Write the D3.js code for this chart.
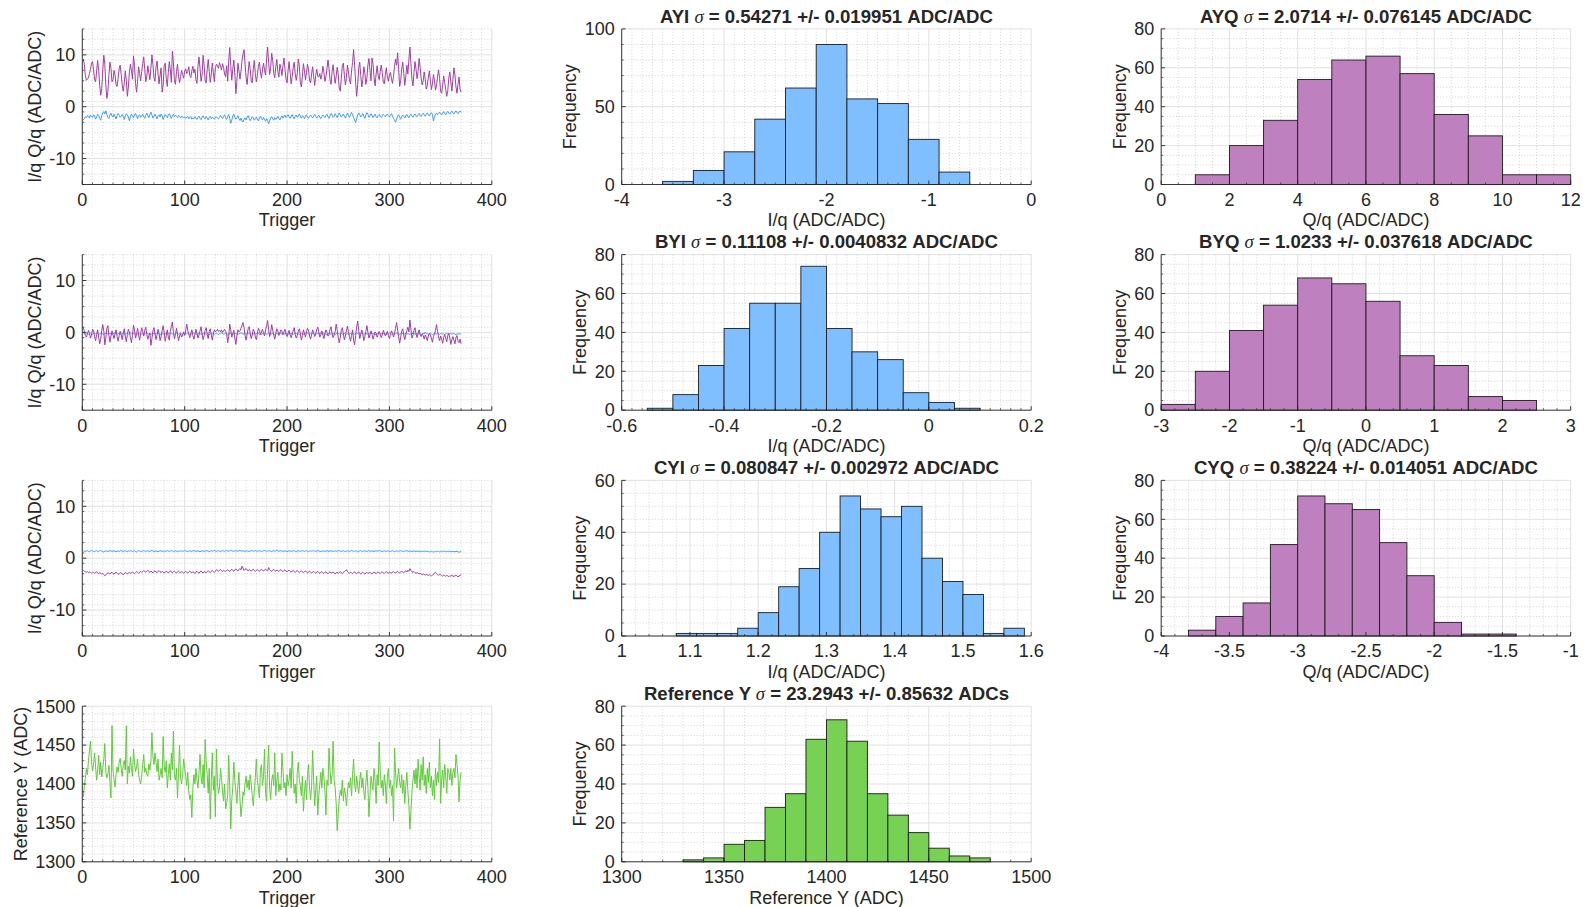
<!DOCTYPE html>
<html>
<head>
<meta charset="utf-8">
<script src="https://cdn.jsdelivr.net/npm/d3@7"></script>
<style>
  body { margin: 0; background: #fff; }
  svg text { font-family: "Liberation Sans", Arial, Helvetica, sans-serif; fill: #262626; }
</style>
</head>
<body>
<svg id="fig" width="1592" height="907"></svg>
<script>
// ---------------- Time series (per trigger) ----------------
const ayI = [
-2.55,-2.30,-1.95,-2.10,-1.70,-1.85,-2.20,-1.60,-1.90,-2.05,
-1.55,-1.80,-2.40,-1.95,-1.45,-1.70,-2.25,-2.60,-1.65,-1.20,
-0.95,-1.40,-0.80,-1.50,-2.10,-2.30,-1.60,-1.25,-1.75,-2.00,
-1.45,-1.85,-2.35,-1.70,-1.30,-1.65,-2.05,-1.80,-1.50,-1.90,
-2.45,-1.75,-1.35,-1.60,-2.00,-2.70,-1.95,-1.40,-1.75,-2.15,
-1.60,-1.30,-1.85,-2.30,-1.70,-1.55,-2.05,-1.80,-1.45,-1.95,
-2.25,-1.65,-1.25,-1.70,-2.10,-1.50,-1.05,-1.60,-2.20,-1.85,
-1.45,-1.90,-2.35,-1.75,-1.55,-2.00,-1.40,-1.70,-2.45,-1.95,
-1.50,-1.85,-2.10,-1.60,-1.35,-1.80,-2.25,-1.70,-1.45,-1.95,
-1.60,-1.85,-2.05,-1.70,-1.90,-2.15,-1.80,-2.00,-2.20,-1.95,
-2.25,-2.05,-1.85,-2.35,-2.10,-1.90,-2.40,-2.15,-2.30,-1.95,
-2.20,-2.45,-2.05,-1.80,-2.25,-2.50,-2.00,-1.75,-2.15,-2.35,
-1.90,-2.20,-2.55,-2.10,-1.85,-2.30,-2.05,-2.25,-2.40,-2.00,
-1.95,-2.20,-2.35,-2.10,-1.70,-2.05,-2.30,-1.85,-1.55,-2.15,
-2.45,-1.95,-1.50,-2.25,-3.20,-2.60,-1.80,-1.45,-2.05,-2.40,
-2.10,-1.75,-2.30,-2.65,-2.20,-2.75,-2.95,-2.40,-2.15,-2.55,
-2.05,-1.70,-2.25,-2.70,-2.35,-1.90,-2.15,-2.60,-2.30,-2.00,
-2.40,-2.75,-2.20,-1.85,-2.30,-2.55,-2.05,-2.45,-2.80,-2.30,
-2.60,-3.30,-2.70,-2.15,-1.90,-2.35,-2.60,-2.10,-2.45,-2.20,
-1.85,-2.30,-2.55,-2.05,-1.75,-2.20,-1.95,-1.60,-2.10,-1.85,
-1.55,-1.95,-2.25,-1.80,-1.50,-2.00,-2.35,-1.85,-1.60,-2.05,
-1.75,-1.40,-1.85,-2.20,-1.70,-1.95,-2.30,-1.80,-1.55,-2.00,
-2.25,-1.85,-1.60,-1.95,-2.15,-1.75,-1.50,-1.90,-2.20,-1.85,
-1.65,-2.00,-2.30,-1.90,-1.60,-1.85,-2.10,-1.70,-1.45,-1.95,
-2.25,-1.75,-1.30,-1.65,-2.05,-1.85,-1.35,-1.70,-2.10,-1.55,
-1.20,-1.60,-2.00,-1.75,-1.40,-1.85,-2.20,-1.65,-1.25,-1.70,
-2.05,-1.50,-1.10,-1.55,-2.10,-2.60,-3.05,-2.30,-1.60,-1.20,
-1.55,-2.00,-1.70,-1.30,-1.85,-2.25,-1.60,-1.15,-1.50,-2.05,
-1.75,-1.35,-1.65,-2.10,-1.80,-1.45,-1.90,-2.15,-1.70,-1.50,
-1.85,-2.10,-1.75,-1.45,-1.70,-1.95,-1.60,-1.40,-1.75,-2.00,
-1.65,-1.35,-1.80,-2.30,-2.60,-3.00,-2.35,-1.85,-1.55,-2.05,
-2.40,-1.95,-1.60,-1.90,-2.20,-1.75,-1.50,-1.85,-2.15,-1.70,
-1.45,-1.80,-2.05,-1.65,-1.40,-1.75,-1.95,-1.55,-1.30,-1.70,
-1.90,-1.50,-1.25,-1.60,-1.85,-1.45,-1.20,-1.55,-1.80,-1.40,
-1.15,-1.50,-2.75,-1.90,-1.45,-1.20,-1.55,-1.35,-1.05,-1.40,
-1.60,-1.25,-0.95,-1.30,-1.55,-1.15,-0.90,-1.25,-1.45,-1.10,
-0.85,-1.20,-1.40,-1.05,-0.80,-1.15,-1.35,-1.00,-0.85,-1.10];

const ayQ = [
9.2,8.1,6.0,5.1,5.3,5.6,6.4,7.2,8.4,8.7,
7.1,5.2,4.8,6.9,8.9,7.0,4.1,2.2,3.5,7.1,
9.9,8.2,4.0,1.6,2.9,6.2,8.6,7.4,4.8,5.2,
7.0,6.1,4.2,3.9,5.5,7.3,8.0,6.2,4.1,3.0,
4.6,6.9,5.1,2.0,3.8,6.7,8.2,7.0,5.3,9.8,
8.0,4.5,2.8,4.9,7.7,6.4,5.0,6.8,8.3,9.6,
7.2,4.8,5.9,7.9,6.5,5.2,7.4,10.0,8.1,5.6,
4.9,7.6,8.8,6.3,4.4,6.1,7.5,2.8,4.2,7.9,
8.4,5.5,3.9,6.6,8.7,7.1,4.7,10.7,8.5,5.0,
4.3,6.8,8.2,5.9,4.6,5.8,7.0,6.2,5.5,6.9,
7.3,6.4,6.8,7.7,6.0,5.6,6.9,7.8,6.5,7.2,
5.2,4.5,7.8,9.6,7.4,4.9,6.1,9.9,8.0,5.0,
4.6,7.2,9.1,6.8,4.7,6.3,8.4,6.5,4.8,7.5,
8.2,7.9,7.4,8.5,7.8,7.1,8.3,7.6,6.2,5.8,
7.9,4.9,8.8,11.4,8.0,5.1,7.2,9.0,6.3,2.5,
4.9,8.4,7.0,5.3,6.8,8.9,10.1,11.0,8.2,5.6,
4.3,6.5,8.7,7.2,5.0,4.6,7.3,8.9,6.4,4.8,
6.0,7.8,8.6,6.7,5.5,7.1,8.4,7.0,6.1,9.2,
11.5,8.6,6.2,7.5,10.3,8.9,6.4,5.6,7.7,9.1,
6.8,5.7,8.2,7.4,6.0,7.9,9.4,7.2,5.3,4.6,
6.9,8.7,6.6,4.4,5.8,7.5,8.6,6.3,5.1,6.4,
9.2,7.8,4.7,3.8,5.9,8.3,6.9,5.2,6.6,8.2,
7.1,5.0,4.6,6.4,7.7,5.8,4.1,6.0,7.2,5.9,
5.7,6.4,5.3,6.2,7.8,6.6,4.9,5.8,7.3,9.0,
7.4,5.2,4.3,6.8,8.1,6.1,4.5,5.9,7.6,6.2,
3.6,3.0,5.4,7.9,8.4,6.0,4.2,5.6,8.0,6.7,
5.1,4.4,6.9,8.5,11.0,7.9,4.6,2.0,4.3,7.4,
8.6,6.0,3.8,5.2,7.7,6.5,4.3,5.5,8.1,9.3,
7.0,5.0,9.4,8.2,5.6,4.0,6.3,7.9,6.0,5.2,
6.8,8.0,6.6,4.8,4.4,6.2,7.5,5.7,4.9,6.1,
6.6,5.4,4.5,5.9,7.8,9.2,8.0,10.4,7.1,3.9,
5.0,7.3,8.6,6.4,4.1,5.8,8.0,6.3,9.0,11.5,
8.4,5.3,4.0,6.6,8.7,7.2,5.4,6.8,9.3,7.6,
5.5,4.2,5.0,6.7,5.3,3.4,4.1,5.6,6.9,5.0,
3.3,4.4,6.2,5.1,3.2,4.0,5.8,7.1,5.4,3.0,
2.6,4.2,5.9,4.7,3.3,2.0,3.1,5.5,6.7,4.8,
3.0,5.2,7.5,6.1,3.8,2.6,4.3,5.7,3.4,2.8];

const byI = [
-0.12,-0.25,-0.31,-0.18,-0.22,-0.36,-0.27,-0.15,-0.29,-0.40,
-0.21,-0.13,-0.33,-0.26,-0.19,-0.38,-0.30,-0.17,-0.24,-0.35,
-0.42,-0.28,-0.11,-0.20,-0.34,-0.25,-0.16,-0.31,-0.45,-0.27,
-0.19,-0.08,-0.22,-0.37,-0.29,-0.14,-0.26,-0.33,-0.21,-0.12,
-0.30,-0.41,-0.24,-0.18,-0.32,-0.27,-0.09,-0.23,-0.36,-0.28,
-0.20,-0.34,-0.47,-0.25,-0.15,-0.30,-0.22,-0.38,-0.26,-0.17,
-0.31,-0.24,-0.13,-0.28,-0.35,-0.21,-0.40,-0.29,-0.18,-0.23,
-0.33,-0.26,-0.06,-0.19,-0.32,-0.43,-0.27,-0.20,-0.36,-0.24,
-0.14,-0.29,-0.37,-0.22,-0.31,-0.25,-0.16,-0.34,-0.28,-0.48,
-0.30,-0.19,-0.26,-0.35,-0.21,-0.11,-0.27,-0.39,-0.24,-0.18,
-0.32,-0.25,-0.15,-0.29,-0.37,-0.22,-0.30,-0.02,-0.19,-0.33,
-0.26,-0.41,-0.28,-0.17,-0.23,-0.36,-0.30,-0.20,-0.12,-0.27,
-0.34,-0.24,-0.31,-0.44,-0.26,-0.18,-0.29,-0.22,-0.35,-0.25,
-0.16,-0.30,-0.38,-0.23,-0.27,-0.10,-0.21,-0.33,-0.28,-0.19,
-0.35,-0.50,-0.31,-0.24,-0.17,-0.29,-0.36,-0.22,-0.13,-0.26,
-0.32,-0.40,-0.25,-0.19,-0.04,-0.23,-0.34,-0.28,-0.21,-0.37,
-0.30,-0.14,-0.26,-0.33,-0.22,-0.39,-0.27,-0.18,-0.31,-0.24,
-0.09,-0.20,-0.35,-0.28,-0.42,-0.25,-0.16,-0.30,-0.23,-0.36,
-0.29,-0.12,-0.24,-0.38,-0.27,-0.21,-0.33,-0.46,-0.26,-0.19,
-0.31,-0.23,-0.07,-0.20,-0.34,-0.28,-0.40,-0.24,-0.15,-0.29,
-0.36,-0.22,-0.30,-0.18,-0.26,-0.37,-0.32,-0.11,-0.25,-0.33,
-0.21,-0.43,-0.28,-0.16,-0.24,-0.35,-0.29,-0.20,0.03,-0.14,
-0.27,-0.38,-0.25,-0.31,-0.19,-0.23,-0.34,-0.41,-0.26,-0.17,
-0.30,-0.22,-0.12,-0.28,-0.36,-0.24,-0.18,-0.32,-0.52,-0.29,
-0.21,-0.27,-0.35,-0.15,-0.25,-0.30,-0.39,-0.23,-0.08,-0.20,
-0.33,-0.26,-0.19,-0.37,-0.28,-0.22,-0.13,-0.31,-0.24,-0.44,
-0.29,-0.17,-0.34,-0.25,-0.21,-0.38,-0.27,-0.10,-0.23,-0.32,
-0.26,-0.35,-0.18,-0.28,-0.40,-0.24,-0.15,-0.30,-0.36,-0.22,
-0.27,-0.01,-0.19,-0.33,-0.25,-0.47,-0.29,-0.21,-0.14,-0.31,
-0.37,-0.24,-0.28,-0.18,-0.34,-0.26,-0.42,-0.22,-0.30,-0.11,
-0.25,-0.35,-0.20,-0.29,-0.38,-0.23,-0.16,-0.31,-0.27,-0.39,
-0.22,-0.05,-0.26,-0.33,-0.28,-0.19,-0.36,-0.24,-0.30,-0.45,
-0.21,-0.27,-0.12,-0.32,-0.25,-0.37,-0.18,-0.29,-0.23,-0.34,
-0.40,-0.26,-0.17,-0.31,0.06,-0.22,-0.28,-0.36,-0.24,-0.13,
-0.30,-0.43,-0.27,-0.20,-0.33,-0.25,-0.09,-0.29,-0.38,-0.23,
-0.18,-0.32,-0.26,-0.41,-0.28,-0.15,-0.35,-0.24,-0.30,-0.21,
-0.37,-0.27,-0.19,-0.33,-0.44,-0.26,-0.31,-0.22,-0.36,-0.29];

const byQ = [
1.0,0.2,-0.6,-0.9,-0.3,0.4,-0.2,-1.1,-0.5,0.6,
0.3,-0.8,-1.6,-0.4,0.5,-0.9,-2.2,-1.3,0.4,1.5,
0.2,-2.4,-1.0,0.8,1.3,-0.6,-1.9,-0.7,0.3,-0.4,
-1.2,-0.3,0.5,-0.8,-1.7,-0.6,0.2,-0.5,-1.4,-0.2,
0.7,-0.9,-1.8,-0.4,0.6,0.1,-1.0,-2.0,-0.6,1.4,
0.5,-1.1,-0.3,0.8,-0.5,-1.5,-0.2,0.9,0.2,-0.7,
0.4,1.0,-0.4,-1.3,-0.6,-0.1,-2.5,-1.2,0.3,0.9,
-0.3,-1.4,-0.5,0.6,-0.2,-1.6,-0.8,0.4,1.3,-0.1,
-1.7,-0.6,0.5,-0.9,-1.5,0.2,1.2,2.0,0.1,-1.2,
-0.4,0.8,-0.3,-1.6,-0.7,-0.2,-0.9,-0.5,0.1,-0.6,
0.3,1.6,0.4,-0.3,-1.0,-0.2,0.5,-0.6,-1.3,-0.4,
0.6,-0.2,-1.1,-0.5,0.3,1.1,-0.3,-1.4,-0.6,0.4,
0.9,-0.4,-1.2,0.2,0.7,-0.5,-1.5,-0.3,0.5,0.1,
0.3,0.6,0.2,0.4,0.1,0.5,0.0,0.3,0.6,0.2,
-0.3,-2.0,-0.8,1.6,0.5,-0.9,-0.2,0.4,-1.1,-2.3,
-0.7,0.5,0.1,0.3,0.8,1.3,1.9,0.9,-0.6,-1.5,
-0.4,0.7,1.1,-0.2,-1.2,-0.5,0.6,0.2,-0.9,-1.4,
-0.3,0.8,0.4,-0.5,0.1,0.6,-0.2,-0.7,0.5,1.2,
2.3,0.6,-0.8,-0.1,1.5,0.4,-0.5,-1.3,-0.2,0.7,
0.3,-0.6,-0.1,0.5,0.2,-0.4,0.1,0.6,-0.3,-0.8,
-0.2,0.4,-0.5,-1.0,-0.3,0.3,0.9,-0.4,-1.1,-0.6,
0.2,0.7,-0.3,-1.5,-0.6,0.5,-0.2,-0.9,0.1,0.8,
0.3,-0.7,-1.3,-0.4,0.5,-0.1,-0.8,-0.3,0.6,1.0,
0.1,-0.9,-0.4,0.3,-0.5,-1.2,-0.2,0.5,0.0,-0.7,
-0.4,0.6,1.1,-0.3,-1.0,-0.5,0.2,1.6,0.4,-1.0,
-2.0,-0.9,0.4,0.9,-0.3,-1.4,-0.7,0.3,1.2,0.1,
-0.8,-1.7,-0.6,0.5,-1.5,-2.4,-0.6,1.0,2.2,0.4,
-1.2,-0.4,0.5,-0.3,-1.6,-0.8,0.2,1.3,0.0,-1.1,
-0.5,0.3,-0.4,-1.3,-0.6,0.1,-0.2,-0.9,-0.4,0.2,
-0.3,-1.0,-0.5,0.4,-0.1,-0.7,-0.3,0.2,-0.6,-1.2,
-0.4,0.3,-0.2,-0.9,-0.1,0.8,1.9,0.4,-0.8,-2.1,
-0.9,0.2,0.7,-0.5,-1.4,-0.4,0.3,1.0,0.1,2.4,
0.6,-1.1,-0.5,0.4,0.9,-0.3,-1.0,-0.2,0.5,-0.4,
-0.8,-0.3,-0.6,-1.3,-0.5,-0.9,-1.6,-0.7,-0.2,-0.5,
-1.1,-1.9,-0.8,-0.3,0.4,1.5,0.2,-0.9,-1.6,-0.7,
-1.3,-2.1,-1.0,-0.4,-1.2,-1.8,-0.6,-0.2,-1.1,-2.3,
-1.4,-0.8,-1.5,-2.2,-1.0,-0.6,-1.7,-2.0,-1.3,-2.2];

const cyI = [
1.42,1.35,1.29,1.38,1.44,1.31,1.26,1.37,1.47,1.40,
1.33,1.28,1.39,1.45,1.36,1.30,1.41,1.50,1.34,1.27,
1.22,1.32,1.43,1.38,1.29,1.35,1.46,1.40,1.31,1.37,
1.44,1.33,1.25,1.36,1.42,1.30,1.39,1.48,1.35,1.28,
1.38,1.43,1.32,1.26,1.40,1.34,1.45,1.37,1.29,1.36,
1.41,1.33,1.21,1.35,1.44,1.39,1.31,1.27,1.38,1.46,
1.40,1.32,1.37,1.43,1.34,1.29,1.41,1.52,1.36,1.30,
1.35,1.42,1.33,1.24,1.38,1.45,1.37,1.31,1.40,1.34,
1.28,1.39,1.44,1.36,1.32,1.41,1.47,1.38,1.30,1.35,
1.43,1.37,1.26,1.33,1.40,1.36,1.42,1.31,1.38,1.45,
1.39,1.34,1.29,1.37,1.43,1.35,1.30,1.41,1.48,1.36,
1.32,1.38,1.44,1.33,1.23,1.36,1.42,1.39,1.31,1.37,
1.46,1.40,1.34,1.28,1.38,1.43,1.35,1.41,1.50,1.37,
1.33,1.39,1.45,1.36,1.30,1.40,1.44,1.38,1.32,1.42,
1.47,1.39,1.35,1.41,1.53,1.43,1.37,1.33,1.40,1.46,
1.38,1.34,1.42,1.49,1.40,1.36,1.44,1.39,1.31,1.37,
1.43,1.35,1.28,1.38,1.45,1.41,1.34,1.39,1.46,1.36,
1.32,1.40,1.44,1.37,1.30,1.36,1.42,1.48,1.39,1.33,
1.38,1.45,1.40,1.35,1.29,1.37,1.43,1.36,1.41,1.51,
1.39,1.34,1.40,1.46,1.37,1.31,1.38,1.42,1.35,1.27,
1.36,1.43,1.39,1.32,1.37,1.44,1.40,1.34,1.29,1.38,
1.45,1.36,1.31,1.41,1.47,1.38,1.33,1.39,1.43,1.35,
1.28,1.37,1.42,1.34,1.40,1.46,1.36,1.31,1.38,1.44,
1.39,1.33,1.25,1.36,1.41,1.37,1.30,1.39,1.45,1.35,
1.32,1.40,1.43,1.37,1.29,1.35,1.42,1.38,1.33,1.49,
1.41,1.36,1.30,1.38,1.44,1.34,1.27,1.37,1.42,1.35,
1.31,1.39,1.46,1.40,1.33,1.36,1.43,1.37,1.24,1.34,
1.40,1.45,1.36,1.30,1.38,1.42,1.35,1.28,1.39,1.44,
1.37,1.32,1.41,1.36,1.29,1.38,1.43,1.34,1.40,1.47,
1.39,1.33,1.27,1.36,1.42,1.35,1.31,1.40,1.37,1.33,
1.29,1.38,1.43,1.34,1.26,1.35,1.41,1.36,1.30,1.39,
1.44,1.35,1.28,1.37,1.33,1.40,1.45,1.36,1.31,1.38,
1.34,1.27,1.36,1.42,1.33,1.29,1.38,1.35,1.30,1.37,
1.32,1.25,1.34,1.39,1.31,1.27,1.35,1.30,1.21,1.28,
1.33,1.26,1.18,1.29,1.24,1.31,1.36,1.28,1.22,1.30,
1.35,1.27,1.32,1.38,1.29,1.24,1.33,1.37,1.28,1.31,
1.26,1.34,1.29,1.23,1.31,1.35,1.27,1.10,1.25,1.30];

const cyQ = [
-2.35,-2.50,-2.62,-2.71,-2.58,-2.80,-2.66,-2.74,-2.88,-2.70,
-2.78,-2.92,-2.69,-2.61,-2.84,-3.02,-2.76,-2.90,-3.10,-2.95,
-3.15,-3.38,-3.22,-2.98,-2.80,-2.93,-3.05,-2.86,-2.72,-2.96,
-3.08,-2.85,-2.68,-2.91,-3.12,-2.97,-2.79,-2.88,-3.02,-3.20,
-2.94,-2.76,-2.89,-3.06,-2.83,-2.70,-2.92,-2.81,-2.64,-2.86,
-2.99,-2.78,-2.59,-2.72,-2.90,-2.67,-2.52,-2.75,-2.60,-2.38,
-2.55,-2.71,-2.48,-2.30,-2.57,-2.74,-2.49,-2.62,-2.85,-2.58,
-2.42,-2.66,-2.80,-2.54,-2.39,-2.61,-2.77,-2.52,-2.68,-2.88,
-2.63,-2.47,-2.70,-2.84,-2.56,-2.43,-2.67,-2.79,-2.60,-2.51,
-2.73,-2.86,-2.64,-2.50,-2.69,-2.82,-2.58,-2.71,-2.90,-2.66,
-2.54,-2.75,-2.87,-2.62,-2.48,-2.70,-2.83,-2.59,-2.73,-2.95,
-2.68,-2.53,-2.76,-2.89,-2.61,-2.46,-2.72,-2.85,-2.57,-2.69,
-2.80,-2.55,-2.41,-2.63,-2.78,-2.52,-2.37,-2.60,-2.74,-2.49,
-2.22,-2.38,-2.51,-2.30,-2.16,-2.42,-2.55,-2.33,-2.47,-2.60,
-2.36,-2.21,-2.45,-2.58,-2.29,-2.13,-2.40,-2.52,-2.27,-2.05,
-2.31,-2.48,-2.19,-1.98,-2.25,-1.55,-1.92,-2.36,-2.14,-2.02,
-2.28,-2.44,-2.18,-2.35,-2.50,-2.26,-2.10,-2.39,-2.54,-2.32,
-2.17,-2.43,-2.57,-2.30,-2.12,-2.37,-2.49,-2.24,-2.08,-2.33,
-2.46,-1.82,-2.20,-2.41,-2.55,-2.29,-2.15,-2.38,-2.52,-2.27,
-2.40,-2.58,-2.34,-2.19,-2.44,-2.61,-2.36,-2.23,-2.47,-2.64,
-2.42,-2.30,-2.56,-2.70,-2.48,-2.35,-2.59,-2.73,-2.51,-2.39,
-2.62,-2.77,-2.55,-2.43,-2.66,-2.81,-2.58,-2.46,-2.69,-2.84,
-2.61,-2.50,-2.73,-2.88,-2.64,-2.53,-2.76,-2.91,-2.67,-2.56,
-2.79,-2.94,-2.70,-2.59,-2.82,-2.97,-2.72,-2.61,-2.85,-2.99,
-2.74,-2.63,-2.87,-2.78,-2.66,-2.89,-3.03,-2.80,-2.68,-2.92,
-2.76,-2.58,-2.83,-2.95,-2.71,-2.60,-2.45,-2.22,-2.57,-2.79,
-2.90,-2.68,-2.81,-2.98,-2.74,-2.62,-2.86,-3.01,-2.77,-2.65,
-2.88,-3.05,-2.80,-2.69,-2.93,-3.08,-2.84,-2.72,-2.96,-2.82,
-2.70,-2.91,-3.04,-2.79,-2.67,-2.87,-2.99,-2.75,-2.64,-2.85,
-2.97,-2.73,-2.61,-2.83,-2.94,-2.71,-2.59,-2.80,-2.92,-2.68,
-2.78,-2.90,-2.66,-2.55,-2.76,-2.88,-2.63,-2.52,-2.74,-2.86,
-2.60,-2.49,-2.71,-2.82,-2.57,-2.44,-2.68,-2.30,-2.53,-2.02,
-2.38,-2.61,-2.73,-2.55,-2.80,-2.94,-2.77,-2.89,-3.05,-2.92,
-3.07,-3.18,-3.01,-3.14,-3.26,-3.10,-3.22,-3.35,-3.16,-3.28,
-3.40,-3.24,-3.12,-2.85,-2.70,-2.96,-3.15,-3.30,-3.08,-3.19,
-3.33,-3.45,-3.27,-3.36,-3.50,-3.31,-3.42,-3.58,-3.38,-3.47,
-3.29,-3.44,-3.55,-3.37,-3.26,-3.48,-3.62,-3.41,-3.33,-3.20];

const refY = [
1383,1398,1407,1420,1412,1430,1442,1455,1428,1417,
1425,1440,1422,1405,1418,1437,1412,1428,1409,1420,
1432,1452,1415,1408,1413,1424,1402,1382,1475,1418,
1406,1396,1412,1422,1415,1428,1433,1420,1410,1425,
1430,1418,1475,1400,1423,1414,1435,1420,1410,1445,
1428,1416,1422,1432,1412,1405,1400,1410,1425,1438,
1415,1420,1412,1410,1426,1418,1430,1466,1435,1425,
1440,1428,1416,1432,1405,1412,1420,1408,1461,1422,
1415,1430,1395,1412,1426,1405,1440,1418,1468,1410,
1405,1420,1382,1415,1450,1408,1400,1412,1432,1420,
1410,1398,1415,1390,1380,1386,1357,1395,1412,1400,
1420,1405,1395,1415,1438,1410,1400,1425,1395,1457,
1430,1412,1388,1420,1355,1405,1440,1392,1410,1358,
1445,1402,1388,1395,1420,1408,1390,1378,1400,1368,
1375,1385,1437,1398,1342,1380,1395,1428,1405,1390,
1375,1398,1415,1380,1358,1372,1390,1385,1400,1410,
1395,1405,1392,1412,1400,1385,1372,1390,1408,1432,
1405,1395,1382,1418,1425,1398,1410,1445,1388,1378,
1420,1450,1395,1380,1405,1412,1398,1440,1385,1405,
1415,1390,1400,1392,1440,1418,1395,1402,1385,1412,
1398,1405,1420,1395,1442,1410,1388,1400,1375,1415,
1428,1405,1398,1385,1410,1365,1390,1405,1380,1412,
1425,1395,1380,1398,1443,1405,1372,1392,1410,1360,
1385,1400,1415,1395,1420,1408,1392,1360,1405,1398,
1446,1418,1400,1412,1455,1405,1395,1375,1340,1362,
1380,1392,1385,1405,1378,1395,1388,1372,1390,1402,
1395,1408,1385,1412,1432,1400,1390,1410,1398,1388,
1405,1415,1395,1408,1390,1380,1402,1418,1395,1358,
1385,1410,1400,1392,1420,1405,1375,1412,1398,1454,
1418,1395,1405,1385,1412,1400,1375,1410,1420,1395,
1405,1385,1398,1353,1446,1415,1395,1408,1420,1402,
1395,1412,1388,1405,1375,1398,1415,1392,1372,1342,
1365,1390,1405,1418,1400,1420,1395,1432,1410,1392,
1425,1405,1435,1398,1412,1388,1420,1402,1428,1395,
1410,1385,1405,1380,1420,1398,1415,1402,1458,1375,
1405,1418,1395,1425,1410,1388,1420,1415,1405,1420,
1398,1415,1420,1408,1438,1425,1410,1377,1405,1415];

// ---------------- Histograms: bin edges and counts ----------------
const ayiEdges  = [-3.6,-3.3,-3.0,-2.7,-2.4,-2.1,-1.8,-1.5,-1.2,-0.9,-0.6];
const ayiCounts = [2,9,21,42,62,90,55,52,29,8];
const ayqEdges  = [1,2,3,4,5,6,7,8,9,10,11,12];
const ayqCounts = [5,20,33,54,64,66,57,36,25,5,5];
const byiEdges  = [-0.55,-0.5,-0.45,-0.4,-0.35,-0.3,-0.25,-0.2,-0.15,-0.1,-0.05,0,0.05,0.1];
const byiCounts = [1,8,23,42,55,55,74,42,30,26,9,4,1];
const byqEdges  = [-3,-2.5,-2,-1.5,-1,-0.5,0,0.5,1,1.5,2,2.5];
const byqCounts = [3,20,41,54,68,65,56,28,23,7,5];
const cyiEdges  = [1.08,1.11,1.14,1.17,1.20,1.23,1.26,1.29,1.32,1.35,1.38,1.41,1.44,1.47,1.50,1.53,1.56,1.59];
const cyiCounts = [1,1,1,3,9,19,26,40,54,49,46,50,30,21,16,1,3];
const cyqEdges  = [-3.8,-3.6,-3.4,-3.2,-3.0,-2.8,-2.6,-2.4,-2.2,-2.0,-1.8,-1.6,-1.4];
const cyqCounts = [3,10,17,47,72,68,65,48,31,7,1,1];
const refEdges  = [1330,1340,1350,1360,1370,1380,1390,1400,1410,1420,1430,1440,1450,1460,1470,1480];
const refCounts = [1,2,9,11,28,35,63,73,62,35,24,15,7,3,2];

// ---------------- Tick values ----------------
const trigTicks   = [0,100,200,300,400];
const iqTicks     = [-10,0,10];
const refTicks    = [1300,1350,1400,1450,1500];
const ayiXTicks   = [-4,-3,-2,-1,0];
const ayqXTicks   = [0,2,4,6,8,10,12];
const byiXTicks   = [-0.6,-0.4,-0.2,0,0.2];
const byqXTicks   = [-3,-2,-1,0,1,2,3];
const cyiXTicks   = [1,1.1,1.2,1.3,1.4,1.5,1.6];
const cyqXTicks   = [-4,-3.5,-3,-2.5,-2,-1.5,-1];
const freq100     = [0,50,100];
const freq80      = [0,20,40,60,80];
const freq60      = [0,20,40,60];

// ---------------- Titles ----------------
const titles = {
  ayi: ["AYI", "0.54271", "0.019951", "ADC/ADC"],
  ayq: ["AYQ", "2.0714", "0.076145", "ADC/ADC"],
  byi: ["BYI", "0.11108", "0.0040832", "ADC/ADC"],
  byq: ["BYQ", "1.0233", "0.037618", "ADC/ADC"],
  cyi: ["CYI", "0.080847", "0.002972", "ADC/ADC"],
  cyq: ["CYQ", "0.38224", "0.014051", "ADC/ADC"],
  ref: ["Reference Y", "23.2943", "0.85632", "ADCs"]
};

// ---------------- Styling ----------------
const colBlue = "#3d9bff", colPurple = "#a23fa2", colGreen = "#5fcb3a";
const fillBlue = "#80bfff", fillPurple = "#bf80bf", fillGreen = "#77d152";
const FS = 18, TFS = 18.6;

const svg = d3.select("#fig");
const W = 409.5, H = 155.6;
const colX = [82.3, 621.7, 1161.2];
const rowY = [28.9, 254.6, 480.4, 706.2];

function stepValues(lo, hi, step) {
  const n = Math.round((hi - lo) / step);
  return d3.range(n + 1).map(i => +(lo + i * step).toFixed(6));
}

function fmt(v) { return String(+v.toFixed(6)); }

// One axes box: grids, ticks, labels; returns the scales and a layer for marks
function makeAxes(col, row, cfg) {
  const g = svg.append("g").attr("transform", `translate(${colX[col]},${rowY[row]})`);
  const x = d3.scaleLinear().domain(cfg.xDomain).range([0, W]);
  const y = d3.scaleLinear().domain(cfg.yDomain).range([H, 0]);

  const xMinor = stepValues(cfg.xDomain[0], cfg.xDomain[1], cfg.xMinor)
    .filter(v => !cfg.xTicks.some(t => Math.abs(t - v) < 1e-6));
  const yMinor = stepValues(cfg.yDomain[0], cfg.yDomain[1], cfg.yMinor)
    .filter(v => !cfg.yTicks.some(t => Math.abs(t - v) < 1e-6));

  const grid = g.append("g");
  grid.selectAll(".mx").data(xMinor).join("line")
    .attr("x1", d => x(d)).attr("x2", d => x(d)).attr("y1", 0).attr("y2", H)
    .attr("stroke", "#c4c4c4").attr("stroke-width", 0.7).attr("stroke-dasharray", "1 2");
  grid.selectAll(".my").data(yMinor).join("line")
    .attr("y1", d => y(d)).attr("y2", d => y(d)).attr("x1", 0).attr("x2", W)
    .attr("stroke", "#c4c4c4").attr("stroke-width", 0.7).attr("stroke-dasharray", "1 2");
  grid.selectAll(".gx").data(cfg.xTicks).join("line")
    .attr("x1", d => x(d)).attr("x2", d => x(d)).attr("y1", 0).attr("y2", H)
    .attr("stroke", "#dedede").attr("stroke-width", 0.9);
  grid.selectAll(".gy").data(cfg.yTicks).join("line")
    .attr("y1", d => y(d)).attr("y2", d => y(d)).attr("x1", 0).attr("x2", W)
    .attr("stroke", "#dedede").attr("stroke-width", 0.9);

  const marks = g.append("g");
  const axes = g.append("g");

  // axis lines (left and bottom only)
  axes.append("line").attr("x1", 0).attr("x2", W).attr("y1", H).attr("y2", H)
    .attr("stroke", "#262626").attr("stroke-width", 0.9);
  axes.append("line").attr("x1", 0).attr("x2", 0).attr("y1", 0).attr("y2", H)
    .attr("stroke", "#262626").attr("stroke-width", 0.9);

  // inward ticks
  axes.selectAll(".tx").data(cfg.xTicks).join("line")
    .attr("x1", d => x(d)).attr("x2", d => x(d)).attr("y1", H).attr("y2", H - 4)
    .attr("stroke", "#262626").attr("stroke-width", 0.9);
  axes.selectAll(".ty").data(cfg.yTicks).join("line")
    .attr("y1", d => y(d)).attr("y2", d => y(d)).attr("x1", 0).attr("x2", 4)
    .attr("stroke", "#262626").attr("stroke-width", 0.9);
  axes.selectAll(".tmx").data(xMinor).join("line")
    .attr("x1", d => x(d)).attr("x2", d => x(d)).attr("y1", H).attr("y2", H - 2)
    .attr("stroke", "#262626").attr("stroke-width", 0.7);
  axes.selectAll(".tmy").data(yMinor).join("line")
    .attr("y1", d => y(d)).attr("y2", d => y(d)).attr("x1", 0).attr("x2", 2)
    .attr("stroke", "#262626").attr("stroke-width", 0.7);

  // tick labels
  axes.selectAll(".lx").data(cfg.xTicks).join("text")
    .attr("x", d => x(d)).attr("y", H + 21.5)
    .attr("text-anchor", "middle").attr("font-size", FS).text(fmt);
  const yl = axes.append("g");
  yl.selectAll("text").data(cfg.yTicks).join("text")
    .attr("x", -7).attr("y", d => y(d)).attr("dy", "0.35em")
    .attr("text-anchor", "end").attr("font-size", FS).text(fmt);

  // axis titles
  axes.append("text").attr("x", W / 2).attr("y", H + 42)
    .attr("text-anchor", "middle").attr("font-size", FS).text(cfg.xLabel);
  const bb = yl.node().getBBox();
  axes.append("text")
    .attr("transform", `translate(${bb.x - 8.5},${H / 2}) rotate(-90)`)
    .attr("text-anchor", "middle").attr("font-size", FS).text(cfg.yLabel);

  if (cfg.title) {
    const [name, sig, err, unit] = cfg.title;
    const t = axes.append("text").attr("x", W / 2).attr("y", -6.3)
      .attr("text-anchor", "middle").attr("font-size", TFS).attr("font-weight", "bold")
      .attr("fill", "#000");
    t.append("tspan").text(name + " ");
    t.append("tspan").attr("font-style", "italic").attr("font-weight", "normal")
      .attr("font-family", "'Liberation Serif', serif").text("σ");
    t.append("tspan").text(` = ${sig} +/- ${err} ${unit}`);
  }
  return { x, y, marks };
}

function timePanel(row, series, yDomain, yTicks, yMinor, yLabel) {
  const a = makeAxes(0, row, {
    xDomain: [0, 400], yDomain, xTicks: trigTicks, yTicks,
    xMinor: 10, yMinor, xLabel: "Trigger", yLabel
  });
  const line = d3.line().x((d, i) => a.x(i + 1)).y(d => a.y(d));
  series.forEach(s => {
    a.marks.append("path").datum(s.values).attr("d", line)
      .attr("fill", "none").attr("stroke", s.color).attr("stroke-width", 1)
      .attr("stroke-linejoin", "round");
  });
}

function histPanel(col, row, edges, counts, fill, cfg) {
  const a = makeAxes(col, row, cfg);
  a.marks.selectAll("rect").data(counts).join("rect")
    .attr("x", (d, i) => a.x(edges[i]))
    .attr("width", (d, i) => a.x(edges[i + 1]) - a.x(edges[i]))
    .attr("y", d => a.y(d))
    .attr("height", d => a.y(0) - a.y(d))
    .attr("fill", fill).attr("stroke", "#1c1c1c").attr("stroke-width", 0.9);
}

// Left column: time series
timePanel(0, [{ values: ayI, color: colBlue }, { values: ayQ, color: colPurple }],
  [-15, 15], iqTicks, 2, "I/q Q/q (ADC/ADC)");
timePanel(1, [{ values: byI, color: colBlue }, { values: byQ, color: colPurple }],
  [-15, 15], iqTicks, 2, "I/q Q/q (ADC/ADC)");
timePanel(2, [{ values: cyI, color: colBlue }, { values: cyQ, color: colPurple }],
  [-15, 15], iqTicks, 2, "I/q Q/q (ADC/ADC)");
timePanel(3, [{ values: refY, color: colGreen }],
  [1300, 1500], refTicks, 10, "Reference Y (ADC)");

// Middle column: I histograms and reference
histPanel(1, 0, ayiEdges, ayiCounts, fillBlue, {
  xDomain: [-4, 0], yDomain: [0, 100], xTicks: ayiXTicks, yTicks: freq100,
  xMinor: 0.1, yMinor: 10, xLabel: "I/q (ADC/ADC)", yLabel: "Frequency", title: titles.ayi });
histPanel(1, 1, byiEdges, byiCounts, fillBlue, {
  xDomain: [-0.6, 0.2], yDomain: [0, 80], xTicks: byiXTicks, yTicks: freq80,
  xMinor: 0.02, yMinor: 5, xLabel: "I/q (ADC/ADC)", yLabel: "Frequency", title: titles.byi });
histPanel(1, 2, cyiEdges, cyiCounts, fillBlue, {
  xDomain: [1, 1.6], yDomain: [0, 60], xTicks: cyiXTicks, yTicks: freq60,
  xMinor: 0.02, yMinor: 5, xLabel: "I/q (ADC/ADC)", yLabel: "Frequency", title: titles.cyi });
histPanel(1, 3, refEdges, refCounts, fillGreen, {
  xDomain: [1300, 1500], yDomain: [0, 80], xTicks: refTicks, yTicks: freq80,
  xMinor: 10, yMinor: 5, xLabel: "Reference Y (ADC)", yLabel: "Frequency", title: titles.ref });

// Right column: Q histograms
histPanel(2, 0, ayqEdges, ayqCounts, fillPurple, {
  xDomain: [0, 12], yDomain: [0, 80], xTicks: ayqXTicks, yTicks: freq80,
  xMinor: 0.5, yMinor: 5, xLabel: "Q/q (ADC/ADC)", yLabel: "Frequency", title: titles.ayq });
histPanel(2, 1, byqEdges, byqCounts, fillPurple, {
  xDomain: [-3, 3], yDomain: [0, 80], xTicks: byqXTicks, yTicks: freq80,
  xMinor: 0.2, yMinor: 5, xLabel: "Q/q (ADC/ADC)", yLabel: "Frequency", title: titles.byq });
histPanel(2, 2, cyqEdges, cyqCounts, fillPurple, {
  xDomain: [-4, -1], yDomain: [0, 80], xTicks: cyqXTicks, yTicks: freq80,
  xMinor: 0.1, yMinor: 5, xLabel: "Q/q (ADC/ADC)", yLabel: "Frequency", title: titles.cyq });
</script>
</body>
</html>
